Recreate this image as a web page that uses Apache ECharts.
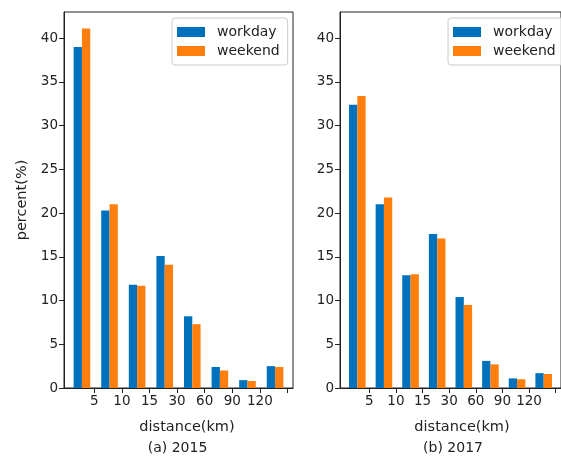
<!DOCTYPE html>
<html>
<head>
<meta charset="utf-8">
<script src="https://cdn.jsdelivr.net/npm/echarts@6/dist/echarts.min.js"></script>
<style>
  html, body { margin: 0; padding: 0; background: #fff; }
  #chart { width: 561px; height: 457px; }
</style>
</head>
<body>
<div id="chart"></div>
<script>
// Trip distance bins (km) shown under the tick between neighbouring groups
const distanceLabels = ['5', '10', '15', '30', '60', '90', '120', ''];
const yTicks = [0, 5, 10, 15, 20, 25, 30, 35, 40];

// Share of trips per distance bin, percent
const workday2015 = [39.0, 20.3, 11.8, 15.1, 8.2, 2.4, 0.9, 2.5];
const weekend2015 = [41.1, 21.0, 11.7, 14.1, 7.3, 2.0, 0.8, 2.4];
const workday2017 = [32.4, 21.0, 12.9, 17.6, 10.4, 3.1, 1.1, 1.7];
const weekend2017 = [33.4, 21.8, 13.0, 17.1, 9.5, 2.7, 1.0, 1.6];

const BLUE = '#0072bd';
const ORANGE = '#ff7f0e';
const INK = '#222222';
const FONT = 'DejaVu Sans';

const tickPos = distanceLabels.map((_, i) => i + 0.45);

function pairs(arr) { return arr.map((v, i) => [i, v]); }

function xAxisFor(gridIndex) {
  return {
    type: 'value', gridIndex: gridIndex, min: -0.65, max: 7.65,
    splitLine: { show: false },
    axisLine: { show: true, onZero: false, lineStyle: { color: INK, width: 1 } },
    axisTick: { show: true, length: 5, customValues: tickPos, lineStyle: { color: INK } },
    axisLabel: {
      customValues: tickPos, margin: 6, color: INK, fontSize: 13.5, fontFamily: FONT,
      formatter: v => distanceLabels[Math.round(v - 0.45)] ?? ''
    }
  };
}

function yAxisFor(gridIndex) {
  return {
    type: 'value', gridIndex: gridIndex, min: 0, max: 43,
    splitLine: { show: false },
    axisLine: { show: true, onZero: false, lineStyle: { color: INK, width: 1 } },
    axisTick: { show: true, length: 5, customValues: yTicks, lineStyle: { color: INK } },
    axisLabel: { customValues: yTicks, margin: 6, color: INK, fontSize: 13.5, fontFamily: FONT }
  };
}

function barSeries(name, data, color, idx) {
  return {
    name: name, type: 'bar', xAxisIndex: idx, yAxisIndex: idx,
    data: pairs(data), barWidth: 8.3, barGap: '0%',
    itemStyle: { color: color }, animation: false
  };
}

function legendAt(left) {
  return {
    orient: 'vertical', left: left, top: 18,
    data: ['workday', 'weekend'], icon: 'rect',
    itemWidth: 28, itemHeight: 10, itemGap: 5,
    padding: [7, 8, 7, 5],
    borderColor: '#cccccc', borderWidth: 1, borderRadius: 3,
    backgroundColor: 'rgba(255,255,255,0.8)',
    textStyle: { fontSize: 14, fontFamily: FONT, color: INK, padding: [0, 0, 0, 7] }
  };
}

function caption(text, x, y, size) {
  return {
    type: 'text', x: x, y: y,
    style: { text: text, x: 0, y: 0, align: 'center', verticalAlign: 'middle',
             fontSize: size, fontFamily: FONT, fill: INK }
  };
}

const chart = echarts.init(document.getElementById('chart'), null, { renderer: 'canvas' });
chart.setOption({
  animation: false,
  backgroundColor: '#fff',
  grid: [
    { left: 64, top: 12, width: 229, height: 376, show: true, borderColor: INK, borderWidth: 1, containLabel: false },
    { left: 340, top: 12, width: 229, height: 376, show: true, borderColor: INK, borderWidth: 1, containLabel: false }
  ],
  xAxis: [xAxisFor(0), xAxisFor(1)],
  yAxis: [yAxisFor(0), yAxisFor(1)],
  legend: [legendAt(172), legendAt(448)],
  series: [
    barSeries('workday', workday2015, BLUE, 0),
    barSeries('weekend', weekend2015, ORANGE, 0),
    barSeries('workday', workday2017, BLUE, 1),
    barSeries('weekend', weekend2017, ORANGE, 1)
  ],
  graphic: [
    {
      type: 'text', x: 22, y: 200, rotation: Math.PI / 2,
      style: { text: 'percent(%)', x: 0, y: 0, align: 'center', verticalAlign: 'middle',
               fontSize: 14.5, fontFamily: FONT, fill: INK }
    },
    caption('distance(km)', 187, 427, 14.5),
    caption('(a) 2015', 177.5, 448, 14),
    caption('distance(km)', 462, 427, 14.5),
    caption('(b) 2017', 453, 448, 14)
  ]
});
</script>
</body>
</html>
